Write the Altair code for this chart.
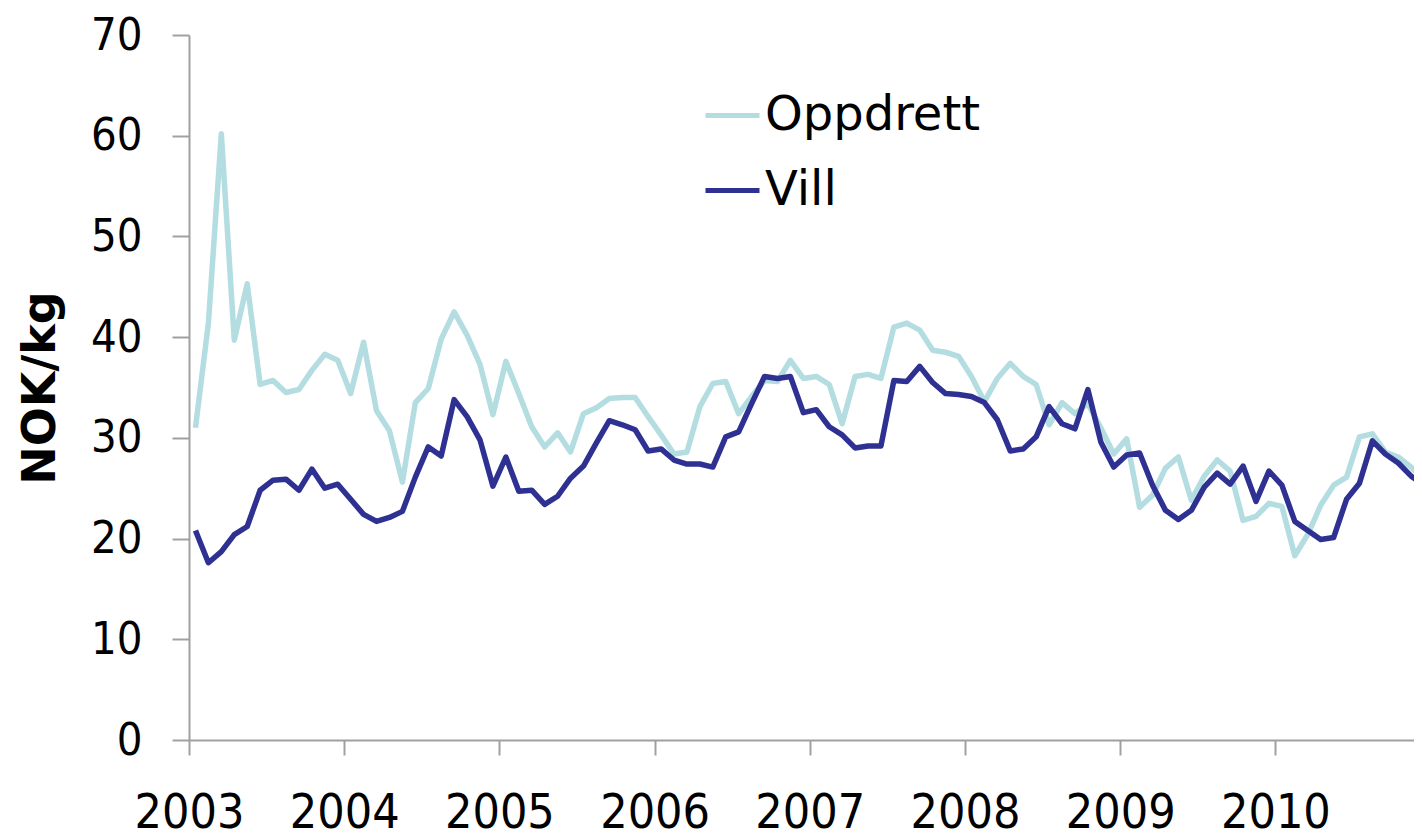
import altair as alt
import pandas as pd

series_names = ["Oppdrett", "Vill"]
series_colors = ["#b3dde0", "#2e3192"]
first_year = 2003
n_months = 96
year_ticks = [2003, 2004, 2005, 2006, 2007, 2008, 2009, 2010]
y_ticks = [0, 10, 20, 30, 40, 50, 60, 70]

oppdrett = [
    31.0, 41.4, 60.2, 39.7, 45.3, 35.3, 35.7, 34.5, 34.8, 36.7, 38.3, 37.7,
    34.4, 39.5, 32.7, 30.7, 25.6, 33.5, 34.9, 39.8, 42.5, 40.2, 37.3, 32.3,
    37.6, 34.4, 31.1, 29.1, 30.5, 28.6, 32.4, 33.0, 33.9, 34.0, 34.0, 32.1,
    30.3, 28.4, 28.6, 33.1, 35.4, 35.6, 32.4, 34.1, 35.7, 35.6, 37.7, 35.9,
    36.1, 35.3, 31.4, 36.1, 36.3, 35.9, 41.0, 41.4, 40.7, 38.7, 38.5, 38.1,
    36.1, 33.6, 35.9, 37.4, 36.1, 35.3, 31.3, 33.5, 32.4, 33.4, 31.0, 28.4,
    29.9, 23.1, 24.3, 27.0, 28.1, 23.8, 26.2, 27.8, 26.7, 21.8, 22.2, 23.5,
    23.2, 18.3, 20.4, 23.3, 25.3, 26.1, 30.1, 30.4, 28.6, 28.1, 27.1, 25.8,
]

vill = [
    20.8, 17.6, 18.7, 20.4, 21.2, 24.8, 25.8, 25.9, 24.8, 26.9, 25.0, 25.4,
    23.9, 22.4, 21.7, 22.1, 22.7, 26.1, 29.1, 28.2, 33.8, 32.1, 29.8, 25.2,
    28.1, 24.7, 24.8, 23.4, 24.2, 26.0, 27.2, 29.5, 31.7, 31.3, 30.8, 28.7,
    28.9, 27.8, 27.4, 27.4, 27.1, 30.1, 30.6, 33.4, 36.1, 35.9, 36.1, 32.5,
    32.8, 31.1, 30.3, 29.0, 29.2, 29.2, 35.7, 35.6, 37.1, 35.5, 34.4, 34.3,
    34.1, 33.5, 31.8, 28.7, 28.9, 30.1, 33.1, 31.4, 30.9, 34.8, 29.6, 27.1,
    28.3, 28.5, 25.3, 22.8, 21.9, 22.8, 25.1, 26.5, 25.4, 27.2, 23.7, 26.7,
    25.3, 21.7, 20.8, 19.9, 20.1, 23.9, 25.5, 29.7, 28.4, 27.5, 26.2, 25.3,
]

rows = []
for name, vals in zip(series_names, [oppdrett, vill]):
    for i, v in enumerate(vals):
        rows.append({"t": first_year + (i + 0.5) / 12.0, "serie": name, "verdi": v, "ord": i})
df = pd.DataFrame(rows)

px_per_year = 155.2
plot_w = 1225
plot_h = 705
x_max = first_year + plot_w / px_per_year

chart = alt.Chart(df).mark_line(strokeWidth=5.5, clip=True, strokeJoin="round").encode(
    x=alt.X("t:Q", scale=alt.Scale(domain=[first_year, x_max], nice=False, zero=False),
            axis=alt.Axis(values=year_ticks, format="d", title=None, grid=False,
                          labelFont="DejaVu Sans Condensed", labelFontSize=48,
                          labelColor="black", labelPadding=34, tickSize=15,
                          tickColor="#a0a0a0", domainColor="#a0a0a0",
                          domainWidth=2, tickWidth=2, labelFlush=False)),
    y=alt.Y("verdi:Q", scale=alt.Scale(domain=[0, 70], nice=False),
            axis=alt.Axis(values=y_ticks, title="NOK/kg", grid=False,
                          labelFont="DejaVu Sans Condensed", labelFontSize=45,
                          labelColor="black", labelPadding=30, tickSize=17,
                          tickColor="#a0a0a0", domainColor="#a0a0a0",
                          domainWidth=2, tickWidth=2,
                          titleFont="DejaVu Sans", titleFontSize=46,
                          titleFontWeight="bold", titleColor="black",
                          titlePadding=26)),
    color=alt.Color("serie:N", scale=alt.Scale(domain=series_names, range=series_colors),
                    legend=alt.Legend(title=None, orient="none", legendX=514, legendY=51,
                                      symbolType="stroke", symbolSize=2916,
                                      symbolStrokeWidth=5, labelFont="DejaVu Sans",
                                      labelFontSize=48, labelColor="black", labelLimit=0,
                                      labelOffset=3, rowPadding=21, padding=0)),
    order="ord:Q",
    detail="serie:N",
).properties(
    width=plot_w,
    height=plot_h,
    autosize=alt.AutoSizeParams(type="none"),
    padding={"left": 181, "top": 27, "right": 0, "bottom": 100},
).configure(background="white", view=alt.ViewConfig(stroke=None))

chart.save("out.html", embed_options={"renderer": "svg", "actions": False})
